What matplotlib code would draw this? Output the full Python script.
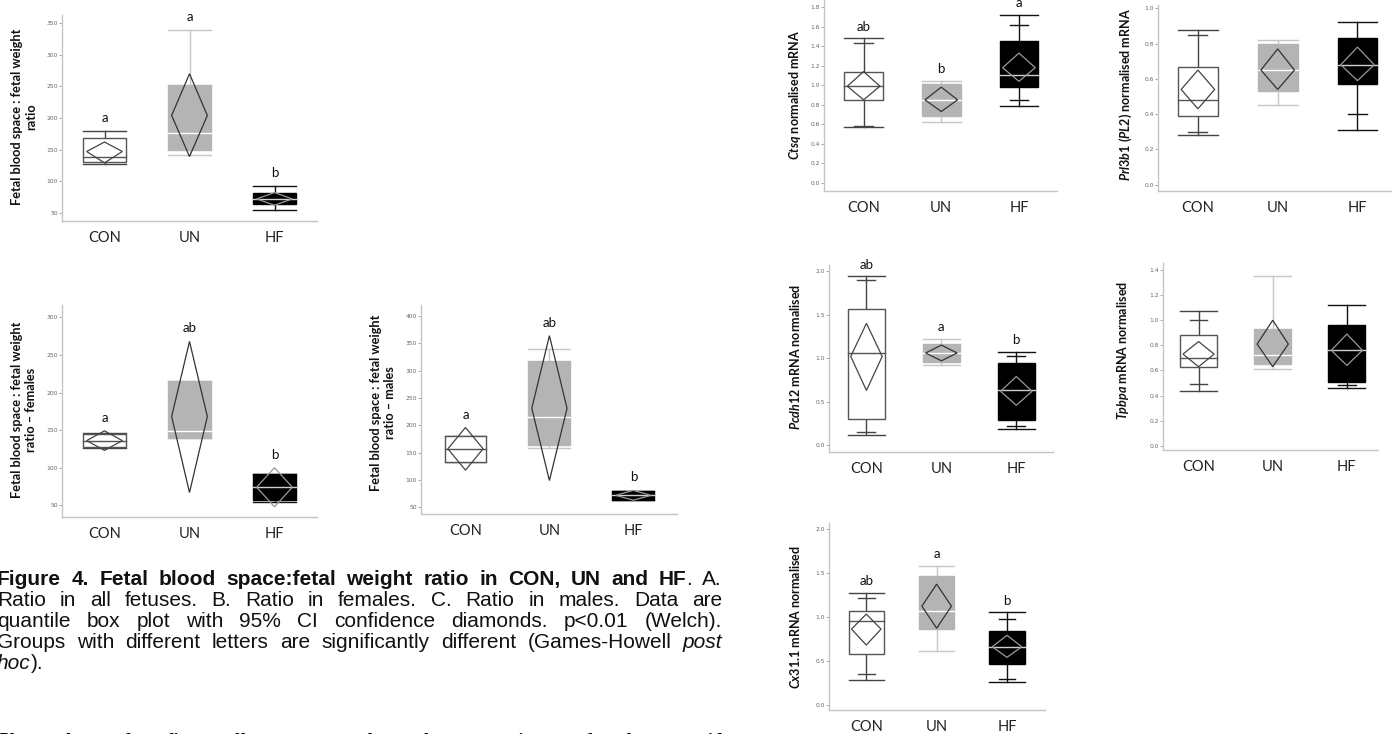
import matplotlib
matplotlib.use("Agg")
import matplotlib.pyplot as plt
from matplotlib.patches import Rectangle, Polygon
from matplotlib import font_manager
import numpy as np

plt.rcParams['mathtext.fontset'] = 'custom'
plt.rcParams['mathtext.it'] = 'Lato:italic:bold'
plt.rcParams['mathtext.rm'] = 'Lato:bold'
plt.rcParams['mathtext.bf'] = 'Lato:bold'

W, H = 1394, 734
fig = plt.figure(figsize=(W / 100, H / 100), dpi=100)

groups = ["CON", "UN", "HF"]

# quantiles per group: [min, p10, q1, median, q3, p90, max]  (None = not drawn)
# diamonds per group: [lower 95% CI, mean, upper 95% CI]
ratio_all_q = [[127, None, 131, 139, 168, None, 180],
               [141, None, 149, 176, 253, None, 339],
               [55, None, 64, 72, 82, None, 93]]
ratio_all_ci = [[129, 147, 162], [139, 204, 270], [62, 72, 82]]
ratio_all_letters = ["a", "a", "b"]

ratio_fem_q = [[126, None, 127, 136, 145, None, 146],
               [140, None, 140, 149, 215, None, 215],
               [55, None, 57, 74, 92, None, 92]]
ratio_fem_ci = [[123, 136, 149], [67, 168, 268], [48, 74, 100]]
ratio_fem_letters = ["a", "ab", "b"]

ratio_male_q = [[133, None, 133, 157, 180, None, 180],
                [158, None, 164, 215, 318, None, 339],
                [63, None, 63, 73, 80, None, 80]]
ratio_male_ci = [[118, 157, 196], [99, 231, 364], [63, 72, 81]]
ratio_male_letters = ["a", "ab", "b"]

ctsq_q = [[0.57, 0.58, 0.85, 0.99, 1.14, 1.43, 1.48],
          [0.62, None, 0.68, 0.85, 1.01, None, 1.04],
          [0.79, 0.85, 0.98, 1.11, 1.45, 1.62, 1.72]]
ctsq_ci = [[0.85, 0.99, 1.14], [0.73, 0.85, 0.98], [1.04, 1.18, 1.33]]
ctsq_letters = ["ab", "b", "a"]

prl_q = [[0.28, 0.30, 0.39, 0.48, 0.67, 0.85, 0.88],
         [0.45, None, 0.53, 0.65, 0.80, None, 0.82],
         [0.31, 0.40, 0.57, 0.68, 0.83, None, 0.92]]
prl_ci = [[0.43, 0.54, 0.65], [0.54, 0.65, 0.77], [0.59, 0.68, 0.78]]
prl_letters = ["", "", ""]

pcdh_q = [[0.12, 0.15, 0.30, 1.06, 1.57, 1.90, 1.94],
          [0.92, None, 0.96, 1.06, 1.16, None, 1.22],
          [0.19, 0.22, 0.29, 0.64, 0.94, 1.02, 1.07]]
pcdh_ci = [[0.63, 1.02, 1.40], [0.97, 1.06, 1.15], [0.46, 0.62, 0.79]]
pcdh_letters = ["ab", "a", "b"]

tpbpa_q = [[0.44, 0.49, 0.63, 0.70, 0.88, 1.00, 1.07],
           [0.61, None, 0.65, 0.72, 0.93, None, 1.35],
           [0.46, 0.48, 0.51, 0.76, 0.96, None, 1.12]]
tpbpa_ci = [[0.63, 0.73, 0.83], [0.63, 0.81, 1.00], [0.64, 0.76, 0.89]]
tpbpa_letters = ["", "", ""]

cx_q = [[0.28, 0.35, 0.58, 0.95, 1.06, 1.21, 1.27],
        [0.61, None, 0.86, 1.07, 1.46, None, 1.58],
        [0.26, 0.30, 0.47, 0.66, 0.84, 0.97, 1.05]]
cx_ci = [[0.68, 0.86, 1.03], [0.87, 1.12, 1.37], [0.54, 0.66, 0.79]]
cx_letters = ["ab", "a", "b"]

# ---------------- styles ----------------
STY = {
    "CON": dict(face="white", edge="#555555", whisk="#444444", med="#555555", dia="#444444"),
    "UN": dict(face="#b4b4b4", edge="#b4b4b4", whisk="#c6c6c6", med="white", dia="#333333"),
    "HF": dict(face="black", edge="black", whisk="#111111", med="#cfcfcf", dia="#9a9a9a"),
}
BOXW = 0.5
DIAW = 0.42
TICKW = 0.12

LABEL_FONT = "Lato"


def draw_group(ax, x, q, ci, sty):
    mn, p10, q1, med, q3, p90, mx = q
    lw = 1.0
    ax.plot([x, x], [mn, q1], color=sty["whisk"], lw=lw, zorder=2)
    ax.plot([x, x], [q3, mx], color=sty["whisk"], lw=lw, zorder=2)
    for v in (mn, mx):
        ax.plot([x - BOXW / 2, x + BOXW / 2], [v, v], color=sty["whisk"], lw=lw, zorder=2)
    for v in (p10, p90):
        if v is not None:
            ax.plot([x - TICKW, x + TICKW], [v, v], color=sty["whisk"], lw=lw, zorder=2)
    ax.add_patch(Rectangle((x - BOXW / 2, q1), BOXW, q3 - q1, facecolor=sty["face"],
                           edgecolor=sty["edge"], lw=lw, zorder=3))
    ax.plot([x - BOXW / 2, x + BOXW / 2], [med, med], color=sty["med"], lw=lw, zorder=4)
    lo, mean, hi = ci
    ax.add_patch(Polygon([[x - DIAW / 2, mean], [x, hi], [x + DIAW / 2, mean], [x, lo]],
                         closed=True, fill=False, edgecolor=sty["dia"], lw=0.9, zorder=5))


def panel(box, ylim, yticks, xlim, qs, cis, letters, ylabel, label_xy, label_size=9.2):
    l, t, r, b = box
    ax = fig.add_axes([l / W, 1 - b / H, (r - l) / W, (b - t) / H])
    ax.set_xlim(*xlim)
    ax.set_ylim(*ylim)
    ax.set_facecolor("none")
    for s in ("top", "right"):
        ax.spines[s].set_visible(False)
    for s in ("left", "bottom"):
        ax.spines[s].set_color("#c4c4c4")
        ax.spines[s].set_linewidth(1.0)
    ax.set_yticks(yticks)
    ax.tick_params(axis="y", length=2, width=0.6, color="#999999", labelsize=4.3,
                   labelcolor="#666666", pad=1)
    ax.set_xticks(range(len(groups)))
    ax.set_xticklabels(groups, fontfamily=LABEL_FONT, fontsize=10.5, color="#222222")
    ax.tick_params(axis="x", length=0, pad=7)
    rng = ylim[1] - ylim[0]
    for i, g in enumerate(groups):
        draw_group(ax, i, qs[i], cis[i], STY[g])
        if letters[i]:
            top = max(qs[i][6], cis[i][2])
            ax.text(i, top + 0.062 * rng, letters[i], ha="center", va="center",
                    fontfamily=LABEL_FONT, fontsize=9.5, color="#111111")
    fig.text(label_xy[0] / W, 1 - label_xy[1] / H, ylabel, rotation=90, ha="center",
             va="center", fontfamily=LABEL_FONT, fontweight="bold", fontsize=label_size,
             linespacing=1.15, multialignment="center", color="#111111")
    return ax


panel((62, 15, 317, 221), (37, 363), np.arange(50, 351, 50), (-0.5, 2.5),
      ratio_all_q, ratio_all_ci, ratio_all_letters,
      "Fetal blood space : fetal weight\nratio", (24, 117))
panel((62, 305, 317, 517), (34.4, 316.4), np.arange(50, 301, 50), (-0.5, 2.5),
      ratio_fem_q, ratio_fem_ci, ratio_fem_letters,
      "Fetal blood space : fetal weight\nratio \u2013 females", (24, 410))
panel((421, 305, 677, 514), (37.8, 420), np.arange(50, 401, 50), (-0.53, 2.52),
      ratio_male_q, ratio_male_ci, ratio_male_letters,
      "Fetal blood space : fetal weight\nratio \u2013 males", (383, 403))
panel((824, 0, 1057, 191), (-0.086, 1.875), np.round(np.arange(0, 1.81, 0.2), 1), (-0.51, 2.49),
      ctsq_q, ctsq_ci, ctsq_letters,
      r"$\mathit{Ctsq}$ normalised mRNA", (795, 95), 9)
panel((1158, 5, 1391, 191), (-0.036, 1.019), np.round(np.arange(0, 1.01, 0.2), 1), (-0.5, 2.42),
      prl_q, prl_ci, prl_letters,
      r"$\mathit{Prl3b1\ (PL2)}$ normalised mRNA", (1126, 95), 9)
panel((829, 265, 1053, 452), (-0.076, 2.069), np.arange(0, 2.01, 0.5), (-0.5, 2.49),
      pcdh_q, pcdh_ci, pcdh_letters,
      r"$\mathit{Pcdh12}$ mRNA normalised", (795, 357), 9)
panel((1163, 263, 1378, 450), (-0.034, 1.456), np.round(np.arange(0, 1.41, 0.2), 1), (-0.48, 2.42),
      tpbpa_q, tpbpa_ci, tpbpa_letters,
      r"$\mathit{Tpbpa}$ mRNA normalised", (1123, 350), 9)
panel((829, 523, 1045, 710), (-0.057, 2.063), np.arange(0, 2.01, 0.5), (-0.53, 2.54),
      cx_q, cx_ci, cx_letters,
      r"$\mathit{Cx31.1}$ mRNA normalised", (795, 617), 9)

# ---------------- caption (justified) ----------------
caption_lines = [
    [("Figure 4. Fetal blood space:fetal weight ratio in CON, UN and HF", "b"), (". A.", "n")],
    [("Ratio in all fetuses. B. Ratio in females. C. Ratio in males. Data are", "n")],
    [("quantile box plot with 95% CI confidence diamonds. p<0.01 (Welch).", "n")],
    [("Groups with different letters are significantly different (Games-Howell ", "n"), ("post", "i")],
    [("hoc", "i"), (").", "n")],
]
caption_base = [585, 606, 627, 648, 669]
caption_just = [True, True, True, True, False]
heading_line = [("Placental and diet effects on placental expression of fatty acid", "bi")]
X0, X1 = -3, 722


def has_font(name):
    try:
        font_manager.findfont(font_manager.FontProperties(family=name),
                              fallback_to_default=False)
        return True
    except Exception:
        return False


SANS = "Liberation Sans Narrow" if has_font("Liberation Sans Narrow") else "Liberation Sans"


def words_of(line):
    words, new = [], True
    for txt, sty in line:
        parts = txt.split(" ")
        for i, p in enumerate(parts):
            if i > 0:
                new = True
            if p == "":
                continue
            if new or not words:
                words.append([(p, sty)])
            else:
                words[-1].append((p, sty))
            new = False
    return words


def fontprops(sty, serif=False):
    d = dict(fontfamily="Liberation Serif" if serif else SANS)
    d["fontweight"] = "bold" if "b" in sty else "normal"
    d["fontstyle"] = "italic" if "i" in sty else "normal"
    return d


renderer = fig.canvas.get_renderer()


def measure(txt, sty, size, serif=False):
    t = fig.text(0, 0, txt, fontsize=size, **fontprops(sty, serif))
    w = t.get_window_extent(renderer).width
    t.remove()
    return w


def draw_line(line, base, size, justify, serif=False, color="#111111"):
    words = words_of(line)
    widths = [sum(measure(p, s, size, serif) for p, s in wd) for wd in words]
    space = measure("a a", "n", size, serif) - measure("aa", "n", size, serif)
    if justify and len(words) > 1:
        gap = (X1 - X0 - sum(widths)) / (len(words) - 1)
    else:
        gap = space
    x = X0
    for wd, wdt in zip(words, widths):
        xx = x
        for p, s in wd:
            fig.text(xx / W, 1 - base / H, p, fontsize=size, va="baseline", ha="left",
                     color=color, **fontprops(s, serif))
            xx += measure(p, s, size, serif)
        x += wdt + gap


ref_words = words_of(caption_lines[3])
ref_w = sum(sum(measure(p, s, 10) for p, s in wd) for wd in ref_words) + \
    (len(ref_words) - 1) * (measure("a a", "n", 10) - measure("aa", "n", 10))
cap_size = min(10 * (X1 - X0) / ref_w, 15.0)

for line, base, just in zip(caption_lines, caption_base, caption_just):
    draw_line(line, base, cap_size, just)
draw_line(heading_line, 746, 13.5, True, serif=True, color="black")

fig.savefig("out.png", dpi=100)
